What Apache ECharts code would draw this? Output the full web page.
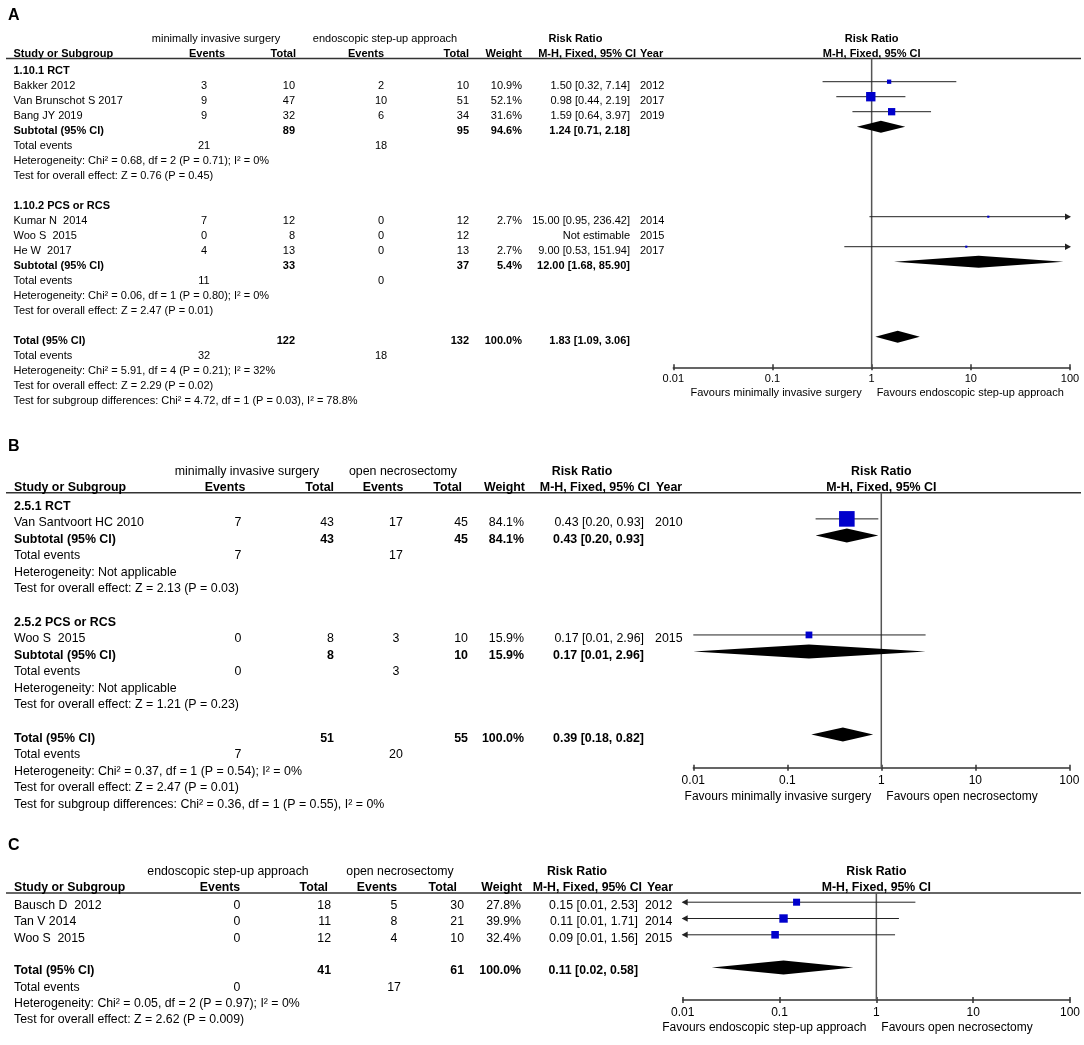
<!doctype html>
<html lang="en">
<head>
<meta charset="UTF-8">
<title>Forest plots</title>
<style>
  html, body { margin: 0; padding: 0; background: #fff; }
  #main { width: 1084px; height: 1045px; }
</style>
</head>
<body>
<div id="main"></div>
<script src="https://cdn.jsdelivr.net/npm/echarts@6/dist/echarts.min.js"></script>
<script>
// ---------- A: minimally invasive surgery vs endoscopic step-up approach
var aGroups = ['1.10.1 RCT', '1.10.2 PCS or RCS'];
var aStudies = ['Bakker 2012', 'Van Brunschot S 2017', 'Bang JY 2019', 'Kumar N  2014', 'Woo S  2015', 'He W  2017'];
var aStudyGroup = [0, 0, 0, 1, 1, 1];
var aYears = [2012, 2017, 2019, 2014, 2015, 2017];
var aEvents1 = [3, 9, 9, 7, 0, 4];
var aTotal1 = [10, 47, 32, 12, 8, 13];
var aEvents2 = [2, 10, 6, 0, 0, 0];
var aTotal2 = [10, 51, 34, 12, 12, 13];
var aWeight = [10.9, 52.1, 31.6, 2.7, null, 2.7];
var aRR = [1.50, 0.98, 1.59, 15.00, null, 9.00];
var aLower = [0.32, 0.44, 0.64, 0.95, null, 0.53];
var aUpper = [7.14, 2.19, 3.97, 236.42, null, 151.94];
var aSubTotal1 = [89, 33];
var aSubTotal2 = [95, 37];
var aSubEvents1 = [21, 11];
var aSubEvents2 = [18, 0];
var aSubWeight = [94.6, 5.4];
var aSubRR = [1.24, 12.00];
var aSubLower = [0.71, 1.68];
var aSubUpper = [2.18, 85.90];
var aSubHet = ['Heterogeneity: Chi² = 0.68, df = 2 (P = 0.71); I² = 0%', 'Heterogeneity: Chi² = 0.06, df = 1 (P = 0.80); I² = 0%'];
var aSubEffect = ['Test for overall effect: Z = 0.76 (P = 0.45)', 'Test for overall effect: Z = 2.47 (P = 0.01)'];
var aAllTotals = [122, 132];
var aAllEvents = [32, 18];
var aAllRR = [1.83, 1.09, 3.06];
var aAllHet = 'Heterogeneity: Chi² = 5.91, df = 4 (P = 0.21); I² = 32%';
var aAllEffect = 'Test for overall effect: Z = 2.29 (P = 0.02)';
var aSubgroupTest = 'Test for subgroup differences: Chi² = 4.72, df = 1 (P = 0.03), I² = 78.8%';

// ---------- B: minimally invasive surgery vs open necrosectomy
var bGroups = ['2.5.1 RCT', '2.5.2 PCS or RCS'];
var bStudies = ['Van Santvoort HC 2010', 'Woo S  2015'];
var bStudyGroup = [0, 1];
var bYears = [2010, 2015];
var bEvents1 = [7, 0];
var bTotal1 = [43, 8];
var bEvents2 = [17, 3];
var bTotal2 = [45, 10];
var bWeight = [84.1, 15.9];
var bRR = [0.43, 0.17];
var bLower = [0.20, 0.01];
var bUpper = [0.93, 2.96];
var bSubTotal1 = [43, 8];
var bSubTotal2 = [45, 10];
var bSubEvents1 = [7, 0];
var bSubEvents2 = [17, 3];
var bSubWeight = [84.1, 15.9];
var bSubRR = [0.43, 0.17];
var bSubLower = [0.20, 0.01];
var bSubUpper = [0.93, 2.96];
var bSubHet = ['Heterogeneity: Not applicable', 'Heterogeneity: Not applicable'];
var bSubEffect = ['Test for overall effect: Z = 2.13 (P = 0.03)', 'Test for overall effect: Z = 1.21 (P = 0.23)'];
var bAllTotals = [51, 55];
var bAllEvents = [7, 20];
var bAllRR = [0.39, 0.18, 0.82];
var bAllHet = 'Heterogeneity: Chi² = 0.37, df = 1 (P = 0.54); I² = 0%';
var bAllEffect = 'Test for overall effect: Z = 2.47 (P = 0.01)';
var bSubgroupTest = 'Test for subgroup differences: Chi² = 0.36, df = 1 (P = 0.55), I² = 0%';

// ---------- C: endoscopic step-up approach vs open necrosectomy
var cStudies = ['Bausch D  2012', 'Tan V 2014', 'Woo S  2015'];
var cYears = [2012, 2014, 2015];
var cEvents1 = [0, 0, 0];
var cTotal1 = [18, 11, 12];
var cEvents2 = [5, 8, 4];
var cTotal2 = [30, 21, 10];
var cWeight = [27.8, 39.9, 32.4];
var cRR = [0.15, 0.11, 0.09];
var cLower = [0.009, 0.009, 0.009];   // shown as 0.01, arrows mark them as below the axis
var cUpper = [2.53, 1.71, 1.56];
var cAllTotals = [41, 61];
var cAllEvents = [0, 17];
var cAllRR = [0.11, 0.02, 0.58];
var cAllHet = 'Heterogeneity: Chi² = 0.05, df = 2 (P = 0.97); I² = 0%';
var cAllEffect = 'Test for overall effect: Z = 2.62 (P = 0.009)';

var X_MIN = 0.01, X_MAX = 100;
var FONT = '"Liberation Sans", Arial, Helvetica, sans-serif';

var panels = [
    {
        letter: 'A', arms: ['minimally invasive surgery', 'endoscopic step-up approach'],
        favours: ['Favours minimally invasive surgery', 'Favours endoscopic step-up approach'],
        data: {
            groups: aGroups, studies: aStudies, studyGroup: aStudyGroup, years: aYears,
            events1: aEvents1, total1: aTotal1, events2: aEvents2, total2: aTotal2,
            weight: aWeight, rr: aRR, lower: aLower, upper: aUpper,
            subTotal1: aSubTotal1, subTotal2: aSubTotal2, subEvents1: aSubEvents1, subEvents2: aSubEvents2,
            subWeight: aSubWeight, subRR: aSubRR, subLower: aSubLower, subUpper: aSubUpper,
            subHet: aSubHet, subEffect: aSubEffect,
            allTotals: aAllTotals, allEvents: aAllEvents, allRR: aAllRR,
            allHet: aAllHet, allEffect: aAllEffect, subgroupTest: aSubgroupTest
        },
        letterY: 16, lineY: 58.5, axisY: 367.3, row0: 66.7, pitch: 15, textDy: 4,
        left: 673.3, right: 1070, fontSize: 11, axisFont: 11, labelMargin: 6, favDy: 25.5,
        squareK: 1.3, diamondH: 6,
        cols: { label: 13.5, e1: 204, n1: 295, e2: 381, n2: 469, w: 522, ci: 630, year: 640 },
        hcols: { arm1: 216, arm2: 385, rr: 575.5, study: 13.5, ev1: 207, tot1: 296, ev2: 366, tot2: 469, weight: 522, mh: 636, year: 640 }
    },
    {
        letter: 'B', arms: ['minimally invasive surgery', 'open necrosectomy'],
        favours: ['Favours minimally invasive surgery', 'Favours open necrosectomy'],
        data: {
            groups: bGroups, studies: bStudies, studyGroup: bStudyGroup, years: bYears,
            events1: bEvents1, total1: bTotal1, events2: bEvents2, total2: bTotal2,
            weight: bWeight, rr: bRR, lower: bLower, upper: bUpper,
            subTotal1: bSubTotal1, subTotal2: bSubTotal2, subEvents1: bSubEvents1, subEvents2: bSubEvents2,
            subWeight: bSubWeight, subRR: bSubRR, subLower: bSubLower, subUpper: bSubUpper,
            subHet: bSubHet, subEffect: bSubEffect,
            allTotals: bAllTotals, allEvents: bAllEvents, allRR: bAllRR,
            allHet: bAllHet, allEffect: bAllEffect, subgroupTest: bSubgroupTest
        },
        letterY: 447, lineY: 492.7, axisY: 767.7, row0: 502.3, pitch: 16.58, textDy: 3.8,
        left: 693.3, right: 1069.3, fontSize: 12.4, axisFont: 12, labelMargin: 7, favDy: 29,
        squareK: 1.7, diamondH: 7,
        cols: { label: 14, e1: 238, n1: 334, e2: 396, n2: 468, w: 524, ci: 644, year: 655 },
        hcols: { arm1: 247, arm2: 403, rr: 582, study: 14, ev1: 225, tot1: 334, ev2: 383, tot2: 462, weight: 525, mh: 650, year: 656 }
    },
    {
        letter: 'C', arms: ['endoscopic step-up approach', 'open necrosectomy'],
        favours: ['Favours endoscopic step-up approach', 'Favours open necrosectomy'],
        data: {
            studies: cStudies, years: cYears,
            events1: cEvents1, total1: cTotal1, events2: cEvents2, total2: cTotal2,
            weight: cWeight, rr: cRR, lower: cLower, upper: cUpper,
            allTotals: cAllTotals, allEvents: cAllEvents, allRR: cAllRR,
            allHet: cAllHet, allEffect: cAllEffect
        },
        letterY: 846, lineY: 893, axisY: 1000, row0: 902.2, pitch: 16.3, textDy: 3.5,
        left: 682.7, right: 1070, fontSize: 12.3, axisFont: 12, labelMargin: 7, favDy: 27.7,
        squareK: 1.33, diamondH: 7,
        cols: { label: 14, e1: 237, n1: 331, e2: 394, n2: 464, w: 521, ci: 638, year: 645 },
        hcols: { arm1: 228, arm2: 400, rr: 577, study: 14, ev1: 220, tot1: 328, ev2: 377, tot2: 457, weight: 522, mh: 642, year: 647 }
    }
];

function font(size, bold) { return (bold ? 'bold ' : '') + size + 'px ' + FONT; }
function ciText(rr, lo, hi) { return rr.toFixed(2) + ' [' + lo.toFixed(2) + ', ' + hi.toFixed(2) + ']'; }

// table rows + forest marks, one row index per printed line
function buildPanel(d) {
    var rows = [], marks = [], r = 0;
    var nGroups = d.groups ? d.groups.length : 1;
    for (var g = 0; g < nGroups; g++) {
        if (d.groups) rows.push({ r: r++, bold: true, label: d.groups[g] });
        for (var i = 0; i < d.studies.length; i++) {
            if (d.groups && d.studyGroup[i] !== g) continue;
            var est = d.rr[i] != null;
            rows.push({
                r: r, label: d.studies[i], e1: d.events1[i], n1: d.total1[i], e2: d.events2[i], n2: d.total2[i],
                w: est ? d.weight[i].toFixed(1) + '%' : '',
                ci: est ? ciText(d.rr[i], d.lower[i], d.upper[i]) : 'Not estimable',
                year: d.years[i]
            });
            if (est) marks.push({ r: r, kind: 'study', rr: d.rr[i], lo: d.lower[i], hi: d.upper[i], w: d.weight[i] });
            r++;
        }
        if (d.groups) {
            rows.push({
                r: r, bold: true, label: 'Subtotal (95% CI)', n1: d.subTotal1[g], n2: d.subTotal2[g],
                w: d.subWeight[g].toFixed(1) + '%', ci: ciText(d.subRR[g], d.subLower[g], d.subUpper[g])
            });
            marks.push({ r: r, kind: 'pooled', rr: d.subRR[g], lo: d.subLower[g], hi: d.subUpper[g] });
            r++;
            rows.push({ r: r++, label: 'Total events', e1: d.subEvents1[g], e2: d.subEvents2[g] });
            rows.push({ r: r++, label: d.subHet[g] });
            rows.push({ r: r++, label: d.subEffect[g] });
        }
        r++;
    }
    rows.push({
        r: r, bold: true, label: 'Total (95% CI)', n1: d.allTotals[0], n2: d.allTotals[1],
        w: (100).toFixed(1) + '%', ci: ciText(d.allRR[0], d.allRR[1], d.allRR[2])
    });
    marks.push({ r: r, kind: 'pooled', rr: d.allRR[0], lo: d.allRR[1], hi: d.allRR[2] });
    r++;
    rows.push({ r: r++, label: 'Total events', e1: d.allEvents[0], e2: d.allEvents[1] });
    rows.push({ r: r++, label: d.allHet });
    rows.push({ r: r++, label: d.allEffect });
    if (d.subgroupTest) rows.push({ r: r++, label: d.subgroupTest });
    return { rows: rows, marks: marks };
}

function rowCells(row, c) {
    var out = [];
    function add(key, align) {
        var v = row[key];
        if (v === undefined || v === null || v === '') return;
        out.push({ text: String(v), x: c[key], align: align, bold: row.bold });
    }
    add('label', 'left'); add('e1', 'center'); add('n1', 'right'); add('e2', 'center');
    add('n2', 'right'); add('w', 'right'); add('ci', 'right'); add('year', 'left');
    return out;
}

function headerRows(p) {
    var h = p.hcols, mid = (p.left + p.right) / 2;
    return [
        { r: -2.1, cells: [
            { text: p.arms[0], x: h.arm1, align: 'center' },
            { text: p.arms[1], x: h.arm2, align: 'center' },
            { text: 'Risk Ratio', x: h.rr, align: 'center', bold: true },
            { text: 'Risk Ratio', x: mid, align: 'center', bold: true }
        ] },
        { r: -1.1, cells: [
            { text: 'Study or Subgroup', x: h.study, align: 'left', bold: true },
            { text: 'Events', x: h.ev1, align: 'center', bold: true },
            { text: 'Total', x: h.tot1, align: 'right', bold: true },
            { text: 'Events', x: h.ev2, align: 'center', bold: true },
            { text: 'Total', x: h.tot2, align: 'right', bold: true },
            { text: 'Weight', x: h.weight, align: 'right', bold: true },
            { text: 'M-H, Fixed, 95% CI', x: h.mh, align: 'right', bold: true },
            { text: 'Year', x: h.year, align: 'left', bold: true },
            { text: 'M-H, Fixed, 95% CI', x: mid, align: 'center', bold: true }
        ] }
    ];
}

function textEl(c, x, y, size) {
    return {
        type: 'text', x: x, y: y,
        style: {
            text: c.text, font: font(size, c.bold), fill: '#000',
            textAlign: c.align, align: c.align,
            textVerticalAlign: 'middle', verticalAlign: 'middle'
        }
    };
}

function tableRender(p, rows) {
    return function (params, api) {
        var row = rows[params.dataIndex];
        var y = api.coord([1, row.r])[1] + p.textDy;
        return {
            type: 'group',
            children: row.cells.map(function (c) { return textEl(c, c.x, y, p.fontSize); })
        };
    };
}

function forestRender(p, marks) {
    return function (params, api) {
        var m = marks[params.dataIndex];
        var y = api.coord([1, m.r])[1];
        var xl = api.coord([Math.max(m.lo, X_MIN), m.r])[0];
        var xh = api.coord([Math.min(m.hi, X_MAX), m.r])[0];
        var xm = api.coord([m.rr, m.r])[0];
        var kids = [];
        if (m.kind === 'study') {
            kids.push({ type: 'line', shape: { x1: xl, y1: y, x2: xh, y2: y }, style: { stroke: '#222', lineWidth: 1 } });
            if (m.hi > X_MAX) kids.push({ type: 'polygon', shape: { points: [[xh + 1, y], [xh - 5, y - 3.2], [xh - 5, y + 3.2]] }, style: { fill: '#222' } });
            if (m.lo < X_MIN) kids.push({ type: 'polygon', shape: { points: [[xl - 1, y], [xl + 5, y - 3.2], [xl + 5, y + 3.2]] }, style: { fill: '#222' } });
            var s = Math.max(2, p.squareK * Math.sqrt(m.w));
            kids.push({ type: 'rect', shape: { x: xm - s / 2, y: y - s / 2, width: s, height: s }, style: { fill: '#0000CC' } });
        } else {
            var h = p.diamondH;
            kids.push({ type: 'polygon', shape: { points: [[xl, y], [xm, y - h], [xh, y], [xm, y + h]] }, style: { fill: '#000' } });
        }
        return { type: 'group', children: kids };
    };
}

function tickLabel(v) { return v < 1 ? String(+(+v).toFixed(2)) : String(Math.round(v)); }

var option = {
    backgroundColor: '#fff',
    animation: false,
    textStyle: { fontFamily: FONT },
    grid: [], xAxis: [], yAxis: [], series: [], graphic: []
};

panels.forEach(function (p, i) {
    var built = buildPanel(p.data);
    var rows = headerRows(p).concat(built.rows.map(function (row) {
        return { r: row.r, cells: rowCells(row, p.cols) };
    }));
    var yMin = (p.lineY - p.row0) / p.pitch;
    var yMax = (p.axisY - p.row0) / p.pitch;

    option.grid.push({
        left: p.left, top: p.lineY, width: p.right - p.left, height: p.axisY - p.lineY,
        containLabel: false, outerBoundsMode: 'none'
    });
    option.xAxis.push({
        type: 'log', logBase: 10, min: X_MIN, max: X_MAX, gridIndex: i, position: 'bottom',
        axisLine: { show: true, onZero: false, lineStyle: { color: '#333', width: 1.5 } },
        axisTick: { show: true, length: 3, lineStyle: { color: '#333', width: 1.5 } },
        axisLabel: {
            show: true, margin: p.labelMargin, color: '#000', fontSize: p.axisFont, fontFamily: FONT,
            showMinLabel: true, showMaxLabel: true, hideOverlap: false, formatter: tickLabel
        },
        splitLine: { show: false }
    });
    option.xAxis.push({
        type: 'log', logBase: 10, min: X_MIN, max: X_MAX, gridIndex: i, position: 'bottom',
        axisLine: { show: false, onZero: false },
        axisTick: { show: true, inside: true, length: 3, lineStyle: { color: '#333', width: 1.5 } },
        axisLabel: { show: false },
        splitLine: { show: false }
    });
    option.yAxis.push({ type: 'value', gridIndex: i, inverse: true, min: yMin, max: yMax, show: false });

    // line of no effect
    option.series.push({
        type: 'line', xAxisIndex: 2 * i, yAxisIndex: i, z: 1, silent: true,
        data: [[1, yMin], [1, yMax]], showSymbol: false, symbol: 'none',
        lineStyle: { color: '#555', width: 1.5 }
    });
    option.series.push({
        type: 'custom', xAxisIndex: 2 * i, yAxisIndex: i, z: 3, clip: false, silent: true,
        renderItem: tableRender(p, rows),
        data: rows.map(function (row) { return [1, row.r]; })
    });
    option.series.push({
        type: 'custom', xAxisIndex: 2 * i, yAxisIndex: i, z: 4, clip: false, silent: true,
        renderItem: forestRender(p, built.marks),
        data: built.marks.map(function (m) { return [m.rr, m.r]; })
    });

    var mid = (p.left + p.right) / 2;
    option.graphic.push(
        { type: 'line', silent: true, shape: { x1: 6, y1: p.lineY, x2: 1081, y2: p.lineY }, style: { stroke: '#333', lineWidth: 1.5 } },
        textEl({ text: p.letter, align: 'left', bold: true }, 8, p.letterY, 16),
        textEl({ text: p.favours[0], align: 'right' }, mid - 10, p.axisY + p.favDy, p.axisFont),
        textEl({ text: p.favours[1], align: 'left' }, mid + 5, p.axisY + p.favDy, p.axisFont)
    );
});

var chart = echarts.init(document.getElementById('main'));
chart.setOption(option);
</script>
</body>
</html>
